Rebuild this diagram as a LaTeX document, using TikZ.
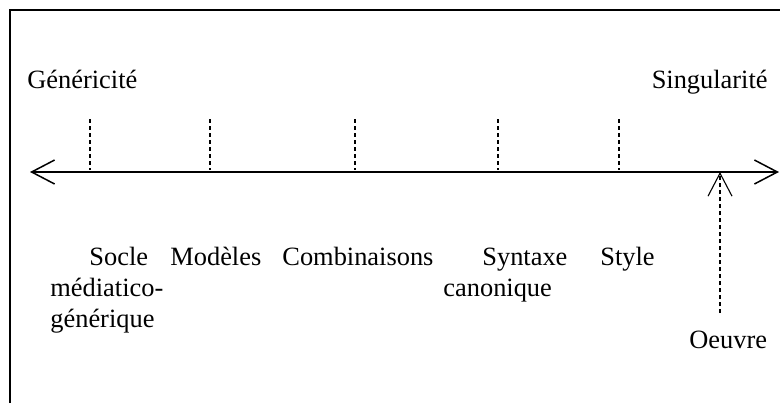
\documentclass[tikz,border=0pt]{standalone}
\usepackage{fontspec}
\setmainfont{Liberation Serif}
\usetikzlibrary{arrows.meta,positioning}

\begin{document}
\begin{tikzpicture}[x=0.5pt,y=-0.5pt,>={Straight Barb[length=11.5pt,width=12pt]},every node/.style={inner sep=0pt,font=\fontsize{13.2}{15.5}\selectfont},tick/.style={line width=0.55pt,dash pattern=on 2pt off 1.5pt}]
    \useasboundingbox (0,0) rectangle (780,403);
    % frame
    \draw[line width=0.8pt] (10,403) -- (10,10) -- (780,10);
    % create the nodes
    \node (gen)[anchor=base west] at (27,88) {Généricité};
    \node (sing)[anchor=base east] at (768,88) {Singularité};
    \coordinate (left) at (30,172);
    \coordinate (right) at (779,172);
    \node (socle)[anchor=base west, align=left] at (50,327) {\hspace*{19.5pt}Socle\\médiatico-\\générique};
    \node (mod)[anchor=base west] at (170,265) {Modèles};
    \node (comb)[anchor=base west] at (282,265) {Combinaisons};
    \node (synt)[anchor=base west, align=left] at (443,296) {\hspace*{19.5pt}Syntaxe\\canonique};
    \node (style)[anchor=base west] at (600,265) {Style};
    \node (oeuvre)[anchor=base west] at (689,348) {Oeuvre};
    \coordinate (work) at (720,313);
    \coordinate (worktip) at (720,172);
    % connect the nodes
    \draw[<->, line width=0.75pt] (left) -- (right);
    \foreach \x/\name in {90/socle,210/mod,355/comb,498/synt,619/style}{
        \coordinate (\name-top) at (\x,119);
        \coordinate (\name-bot) at (\x,170);
        \draw[tick] (\name-top) -- (\name-bot);
    }
    \draw[->, tick] (work) -- (worktip);
\end{tikzpicture}
\end{document}
